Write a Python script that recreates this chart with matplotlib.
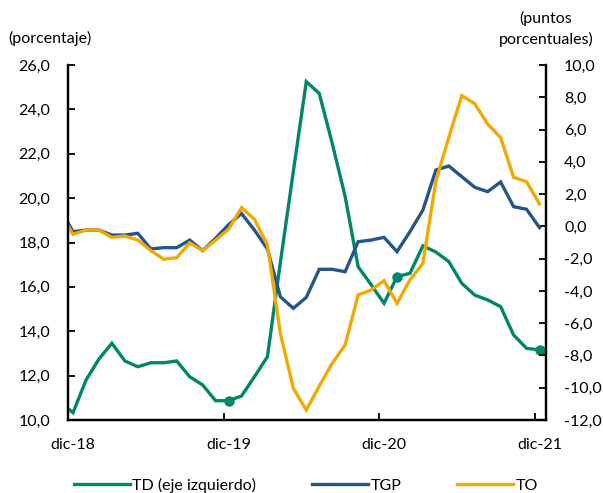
import matplotlib
matplotlib.use("Agg")
import matplotlib.pyplot as plt
from matplotlib.ticker import FuncFormatter, FixedLocator

plt.rcParams['font.family'] = ['Lato', 'DejaVu Sans']

# monthly data, nov-18 .. dic-21 (index -1 .. 36, dic-18 = 0)
months_idx = list(range(-1, 37))
td = [10.79, 10.33, 11.8, 12.75, 13.46, 12.66, 12.4, 12.58, 12.58, 12.66, 11.95, 11.58,
      10.87, 10.87, 11.08, 11.95, 12.85, 17.1, 21.2, 25.25, 24.72, 22.47, 20.07, 16.91,
      16.1, 15.26, 16.46, 16.61, 17.85, 17.57, 17.14, 16.16, 15.63, 15.41, 15.11, 13.83,
      13.23, 13.16]
tgp = [1.08, -0.33, -0.23, -0.23, -0.54, -0.54, -0.43, -1.4, -1.32, -1.32, -0.85, -1.5,
       -0.74, 0.1, 0.8, -0.23, -1.4, -4.36, -5.08, -4.4, -2.66, -2.66, -2.81, -0.95,
       -0.85, -0.68, -1.57, -0.33, 1.01, 3.49, 3.74, 3.08, 2.42, 2.15, 2.75, 1.22,
       1.06, -0.08]
to = [0.81, -0.49, -0.23, -0.23, -0.68, -0.6, -0.85, -1.5, -2.04, -1.94, -1.02, -1.5,
      -0.85, -0.18, 1.16, 0.44, -1.16, -6.63, -10.04, -11.38, -9.9, -8.49, -7.35, -4.25,
      -3.94, -3.37, -4.77, -3.32, -2.29, 2.8, 5.52, 8.1, 7.6, 6.34, 5.5, 3.04,
      2.77, 1.39]
marker_idx = [12, 25, 36]
xtick_idx = [0, 12, 24, 36]
xtick_labels = ['dic-18', 'dic-19', 'dic-20', 'dic-21']

GREEN = '#00876A'
BLUE = '#24568A'
YELLOW = '#F2A900'

fig = plt.figure(figsize=(6.03, 4.93), dpi=100)
ax = fig.add_axes([68/603, 1-420/493, (546-68)/603, (420-65)/493])
ax2 = ax.twinx()

l_td, = ax.plot(months_idx, td, color=GREEN, lw=2.4, solid_joinstyle='miter', zorder=3)
ax.plot([months_idx[months_idx.index(i)] for i in marker_idx],
        [td[months_idx.index(i)] for i in marker_idx],
        'o', color=GREEN, ms=6.5, zorder=4)
l_tgp, = ax2.plot(months_idx, tgp, color=BLUE, lw=2.4, solid_joinstyle='miter')
l_to, = ax2.plot(months_idx, to, color=YELLOW, lw=2.4, solid_joinstyle='miter')

ax.set_xlim(-0.39, 36.5)
ax.set_ylim(10, 26)
ax2.set_ylim(-12, 10)
ax.set_yticks(range(10, 27, 2))
ax2.set_yticks(range(-12, 11, 2))
fmt = FuncFormatter(lambda v, p: f"{v:.1f}".replace('.', ','))
ax.yaxis.set_major_formatter(fmt)
ax2.yaxis.set_major_formatter(fmt)

ax.set_xticks(xtick_idx)
ax.set_xticklabels(xtick_labels)
ax.xaxis.set_minor_locator(FixedLocator([i - 0.36 for i in xtick_idx]))
ax.tick_params(axis='x', which='major', length=0, pad=13, labelsize=11.5)
ax.tick_params(axis='x', which='minor', length=5, width=1.3, direction='in')

ax.tick_params(axis='y', direction='in', length=5, width=1.3, pad=13, labelsize=11.5)
ax2.tick_params(axis='y', direction='in', length=5, width=1.3, pad=13, labelsize=11.5)

for a in (ax, ax2):
    a.spines['top'].set_visible(False)
    for s in ('left', 'right', 'bottom'):
        a.spines[s].set_linewidth(1.6)
        a.spines[s].set_color('black')
ax.patch.set_visible(False)

fig.text(8/603, 1-38/493, '(porcentaje)', ha='left', va='center', fontsize=11.5)
fig.text(546/603, 1-29/493, '(puntos\nporcentuales)', ha='center', va='center',
         fontsize=11.5, linespacing=1.45)

fig.legend([l_td, l_tgp, l_to], ['TD (eje izquierdo)', 'TGP', 'TO'],
           loc='center', bbox_to_anchor=(306/603, 1-485/493), ncol=3, frameon=False,
           handlelength=3.5, handletextpad=0.15, columnspacing=3.5, fontsize=11.5)

fig.savefig('out.png', dpi=100)
